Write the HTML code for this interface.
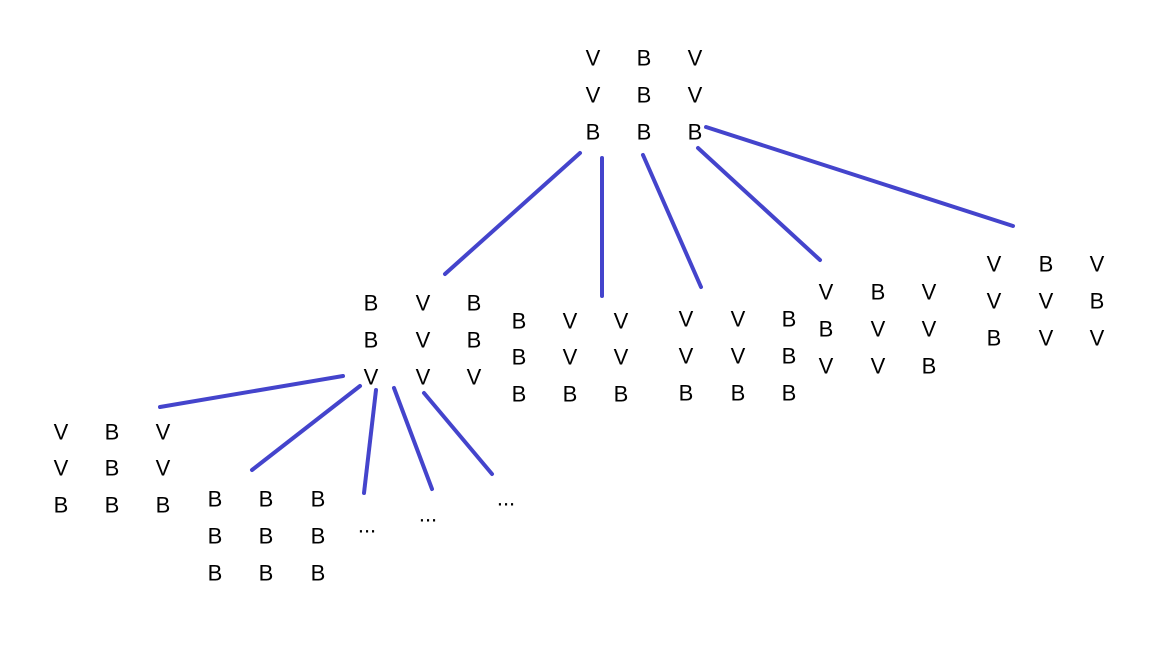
<!DOCTYPE html>
<html><head><meta charset="utf-8"><style>
html,body{margin:0;padding:0;background:#fff;}
svg text{font-family:"Liberation Sans",sans-serif;font-size:22px;fill:#000;text-anchor:middle;dominant-baseline:central;}
</style></head><body>
<svg width="1175" height="660" viewBox="0 0 1175 660" xmlns="http://www.w3.org/2000/svg">
<rect width="1175" height="660" fill="#fff"/>
<g stroke="#4444cc" stroke-width="4" stroke-linecap="round">
<line x1="580" y1="153" x2="445" y2="274"/>
<line x1="602" y1="158" x2="602" y2="296"/>
<line x1="643" y1="155" x2="701" y2="287"/>
<line x1="698" y1="148" x2="820" y2="260"/>
<line x1="706" y1="127" x2="1013" y2="226"/>
<line x1="343" y1="376" x2="160" y2="407"/>
<line x1="360" y1="386" x2="252" y2="470"/>
<line x1="376" y1="390" x2="364" y2="493"/>
<line x1="394" y1="388" x2="432" y2="489"/>
<line x1="424" y1="393" x2="492" y2="474"/>
</g>
<g transform="translate(0,1)">
<text x="593" y="57">V</text><text x="644" y="57">B</text><text x="695" y="57">V</text>
<text x="593" y="94">V</text><text x="644" y="94">B</text><text x="695" y="94">V</text>
<text x="593" y="131">B</text><text x="644" y="131">B</text><text x="695" y="131">B</text>

<text x="371" y="302">B</text><text x="423" y="302">V</text><text x="474" y="302">B</text>
<text x="371" y="339">B</text><text x="423" y="339">V</text><text x="474" y="339">B</text>
<text x="371" y="376">V</text><text x="423" y="376">V</text><text x="474" y="376">V</text>

<text x="519" y="320">B</text><text x="570" y="320">V</text><text x="621" y="320">V</text>
<text x="519" y="356">B</text><text x="570" y="356">V</text><text x="621" y="356">V</text>
<text x="519" y="393">B</text><text x="570" y="393">B</text><text x="621" y="393">B</text>

<text x="686" y="318">V</text><text x="738" y="318">V</text><text x="789" y="318">B</text>
<text x="686" y="355">V</text><text x="738" y="355">V</text><text x="789" y="355">B</text>
<text x="686" y="392">B</text><text x="738" y="392">B</text><text x="789" y="392">B</text>

<text x="826" y="291">V</text><text x="878" y="291">B</text><text x="929" y="291">V</text>
<text x="826" y="328">B</text><text x="878" y="328">V</text><text x="929" y="328">V</text>
<text x="826" y="365">V</text><text x="878" y="365">V</text><text x="929" y="365">B</text>

<text x="994" y="263">V</text><text x="1046" y="263">B</text><text x="1097" y="263">V</text>
<text x="994" y="300">V</text><text x="1046" y="300">V</text><text x="1097" y="300">B</text>
<text x="994" y="337">B</text><text x="1046" y="337">V</text><text x="1097" y="337">V</text>

<text x="61" y="431">V</text><text x="112" y="431">B</text><text x="163" y="431">V</text>
<text x="61" y="467">V</text><text x="112" y="467">B</text><text x="163" y="467">V</text>
<text x="61" y="504">B</text><text x="112" y="504">B</text><text x="163" y="504">B</text>

<text x="215" y="498">B</text><text x="266" y="498">B</text><text x="318" y="498">B</text>
<text x="215" y="535">B</text><text x="266" y="535">B</text><text x="318" y="535">B</text>
<text x="215" y="572">B</text><text x="266" y="572">B</text><text x="318" y="572">B</text>

<text x="367" y="524">...</text>
<text x="428" y="513">...</text>
<text x="506" y="497">...</text>
</g>
</svg>
</body></html>
